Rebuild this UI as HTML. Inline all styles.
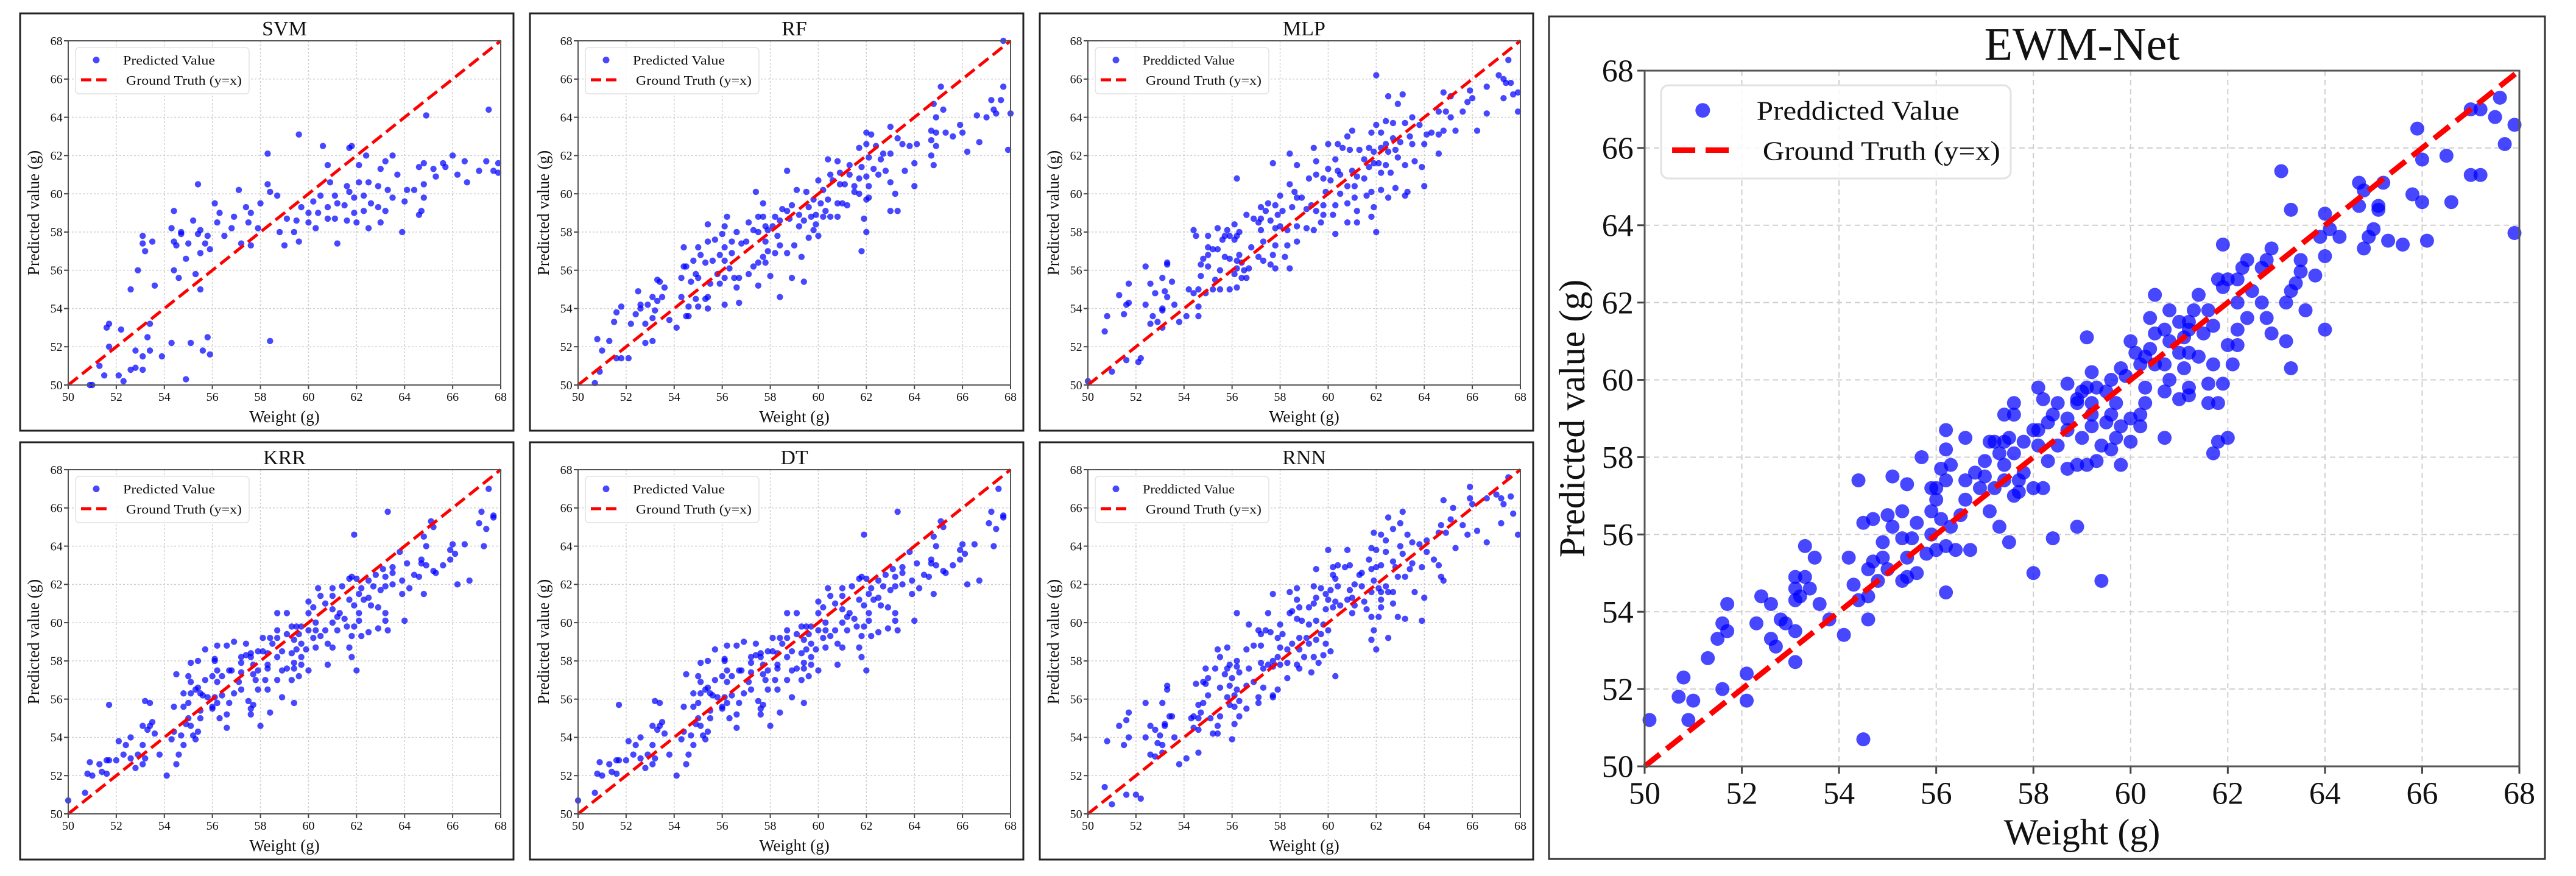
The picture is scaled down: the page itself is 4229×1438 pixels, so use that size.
<!DOCTYPE html>
<html><head><meta charset="utf-8"><style>
html,body{margin:0;padding:0;background:#fff;}
svg{display:block;font-family:"Liberation Serif",serif;}
</style></head><body>
<svg id="fig" width="4229" height="1438" viewBox="0 0 4229 1438" xmlns="http://www.w3.org/2000/svg"></svg>
<script>
const ticks = [50,52,54,56,58,60,62,64,66,68];
const titles = ["SVM","RF","MLP","KRR","DT","RNN","EWM-Net"];
const legendLabels = ["Predicted Value","Predicted Value","Preddicted Value","Predicted Value","Predicted Value","Preddicted Value","Preddicted Value"];
const svmPoints = [[67.5,64.4],[64.9,64.1],[59.6,63.1],[58.3,62.1],[60.6,62.5],[61.7,62.4],[61.8,62.5],[62.4,62.0],[63.5,62.0],[66.0,62.0],[66.5,61.7],[67.4,61.7],[65.6,61.6],[64.8,61.6],[65.2,61.3],[65.7,61.4],[67.1,61.2],[67.7,61.2],[67.9,61.6],[67.9,61.1],[66.2,61.0],[65.3,60.9],[66.6,60.6],[64.8,60.5],[64.8,59.8],[64.6,61.4],[63.7,61.0],[63.0,61.3],[63.2,61.7],[62.1,61.5],[60.8,61.5],[60.9,60.6],[64.1,60.2],[64.4,60.2],[64.0,59.6],[63.5,59.8],[63.3,60.2],[62.9,60.4],[62.5,60.6],[62.1,60.6],[61.6,60.4],[61.7,60.1],[61.9,59.8],[62.3,59.9],[62.6,59.5],[62.9,59.3],[63.2,59.1],[62.3,59.1],[61.9,59.0],[61.5,59.4],[61.2,59.5],[61.1,59.9],[60.8,59.3],[60.4,59.0],[60.0,59.0],[59.7,59.3],[60.2,59.6],[60.5,59.9],[60.8,58.7],[61.1,58.7],[61.6,58.6],[62.0,58.5],[62.5,58.2],[63.0,58.5],[63.9,58.0],[64.6,58.9],[64.7,59.1],[61.2,57.4],[60.3,58.2],[60.0,58.5],[59.5,58.6],[59.1,58.7],[59.4,58.0],[59.6,57.5],[59.0,57.3],[58.8,58.0],[58.7,59.9],[58.4,60.1],[58.3,60.5],[58.0,59.5],[57.6,59.0],[57.5,58.5],[57.9,58.2],[57.6,57.3],[57.2,57.4],[57.1,60.2],[57.4,59.3],[56.9,58.8],[56.8,58.2],[56.5,57.8],[56.2,58.5],[56.3,59.0],[56.1,59.5],[55.8,57.8],[55.7,57.4],[55.9,57.1],[55.5,56.9],[55.5,58.1],[55.2,58.6],[55.4,57.9],[55.0,57.4],[54.7,57.9],[54.5,57.3],[54.7,58.0],[54.3,58.2],[54.4,57.5],[54.9,56.6],[54.4,59.1],[55.4,60.5],[54.4,56.0],[54.6,55.6],[55.3,55.8],[55.5,55.0],[53.6,55.2],[53.5,57.5],[53.1,57.8],[53.1,57.4],[53.2,57.0],[52.9,56.0],[52.6,55.0],[53.4,53.2],[51.6,53.0],[51.7,53.2],[52.2,52.9],[51.7,52.0],[52.8,51.8],[53.3,52.5],[53.4,51.8],[53.1,51.5],[53.9,51.5],[51.3,51.0],[51.5,50.5],[52.1,50.5],[52.6,50.8],[52.8,50.9],[53.1,50.8],[52.3,50.2],[50.9,50.0],[51.0,50.0],[54.3,52.2],[55.1,52.2],[55.6,51.8],[55.8,52.5],[55.9,51.6],[54.9,50.3],[58.4,52.3]];
const rfPoints = [[67.7,68.0],[65.1,65.6],[67.7,65.6],[67.2,64.9],[67.6,64.9],[64.8,64.7],[67.3,64.4],[67.4,64.2],[68.0,64.2],[65.2,64.4],[64.9,64.0],[66.6,64.1],[67.0,64.0],[65.9,63.6],[66.0,63.2],[65.6,63.0],[66.7,62.7],[66.2,62.2],[67.9,62.3],[64.7,63.3],[64.9,63.2],[65.3,63.2],[64.7,62.8],[64.9,62.5],[64.7,62.0],[64.8,61.5],[63.0,63.5],[62.0,63.2],[62.2,63.1],[63.3,62.9],[63.5,62.6],[63.8,62.5],[64.1,62.6],[64.0,61.6],[63.6,61.2],[64.0,60.4],[63.2,60.0],[63.0,59.1],[63.3,59.1],[62.0,62.6],[61.7,62.4],[62.4,62.5],[62.7,62.1],[63.0,62.1],[62.6,61.8],[62.1,61.9],[61.8,61.4],[62.3,61.3],[62.8,61.2],[62.5,61.0],[62.0,60.9],[61.7,60.8],[62.1,60.4],[61.5,60.4],[61.7,60.0],[62.1,59.8],[61.5,60.1],[62.0,59.7],[63.0,60.6],[61.9,58.7],[62.0,58.0],[61.8,57.0],[61.3,61.5],[60.8,61.7],[60.4,61.8],[60.9,61.1],[60.5,61.0],[60.0,60.7],[60.2,60.2],[60.6,60.7],[61.1,60.5],[61.3,61.0],[60.9,60.5],[60.4,59.7],[60.8,59.5],[61.0,59.5],[61.2,59.4],[60.3,59.1],[60.8,58.8],[60.5,58.8],[60.2,58.8],[59.9,58.9],[59.5,60.1],[59.1,60.2],[59.8,59.7],[60.1,59.5],[59.6,59.3],[59.2,58.9],[59.4,58.6],[59.7,58.8],[59.9,58.4],[60.0,57.8],[59.6,57.7],[59.8,58.1],[59.2,58.3],[58.9,59.4],[58.7,59.1],[58.5,59.2],[58.8,58.7],[58.4,58.6],[58.2,58.8],[58.7,61.2],[58.1,58.3],[57.9,58.1],[57.8,58.3],[57.7,58.8],[57.5,58.8],[57.7,59.5],[57.4,60.1],[57.3,58.1],[57.5,58.0],[57.8,57.5],[58.3,57.8],[58.4,57.3],[59.0,57.3],[59.3,56.7],[58.7,56.9],[58.2,56.9],[57.9,57.0],[57.7,56.7],[57.8,56.4],[57.5,56.4],[57.3,56.2],[57.5,55.2],[58.0,55.7],[58.4,54.6],[58.9,55.6],[59.4,55.4],[57.1,58.5],[57.0,57.5],[56.8,57.4],[56.6,58.0],[56.4,57.5],[56.1,57.2],[56.1,58.3],[56.2,58.8],[56.0,57.9],[55.7,57.6],[55.4,58.4],[55.4,57.5],[56.4,56.9],[56.1,56.5],[55.9,56.8],[55.6,56.5],[55.3,56.4],[55.1,56.8],[55.0,57.2],[54.8,56.5],[54.4,57.2],[54.4,56.2],[54.5,56.2],[54.9,55.8],[55.0,55.6],[55.8,55.8],[56.3,56.1],[56.1,55.6],[56.5,55.6],[56.7,55.6],[57.1,55.8],[55.9,55.3],[56.6,55.1],[56.1,54.2],[56.7,54.3],[55.5,55.3],[55.4,54.6],[55.3,54.5],[54.9,54.5],[55.0,54.1],[55.4,54.0],[54.6,54.1],[54.7,55.4],[54.3,55.6],[54.3,54.6],[54.5,53.6],[54.6,53.6],[53.8,53.4],[54.1,53.0],[53.3,55.5],[53.4,55.4],[53.6,55.1],[53.5,54.6],[53.3,54.4],[53.1,54.6],[53.2,53.9],[53.1,53.5],[52.9,54.2],[52.6,54.2],[52.6,54.0],[52.5,54.9],[52.4,53.7],[52.8,53.2],[52.8,52.2],[53.1,52.3],[52.2,53.2],[51.8,54.1],[51.6,53.8],[51.5,53.3],[51.3,52.3],[50.8,52.4],[51.0,51.8],[51.6,51.4],[51.8,51.4],[52.1,51.4],[50.9,50.7],[50.7,50.1]];
const mlpPoints = [[67.5,67.0],[62.0,66.2],[67.1,66.2],[67.3,66.0],[67.4,65.8],[67.6,65.8],[66.6,65.6],[67.9,65.3],[67.7,65.2],[67.3,65.0],[65.9,65.4],[66.0,65.0],[65.8,64.8],[64.8,65.3],[65.1,65.1],[62.5,65.1],[63.1,65.2],[62.9,64.7],[64.6,64.3],[64.9,64.3],[65.1,64.0],[65.6,64.3],[66.6,64.2],[67.9,64.3],[66.2,63.3],[65.3,63.3],[64.8,63.3],[64.6,63.1],[64.3,63.2],[64.1,63.1],[63.8,63.6],[63.5,64.0],[63.2,63.7],[62.7,63.7],[62.4,63.8],[62.0,63.6],[61.8,63.2],[62.2,63.2],[63.4,63.0],[63.5,62.6],[64.0,62.6],[63.0,62.7],[62.7,62.9],[62.4,62.6],[64.6,62.1],[63.9,61.4],[63.6,61.7],[63.2,61.5],[62.9,61.9],[62.8,62.3],[62.5,62.2],[62.2,62.4],[61.9,62.2],[61.7,62.4],[61.5,61.8],[61.3,62.3],[62.1,61.6],[62.4,61.5],[62.6,61.1],[62.2,61.1],[61.7,61.4],[61.9,61.6],[64.0,60.4],[63.3,60.1],[63.2,59.9],[62.8,60.3],[62.5,59.8],[62.2,60.2],[61.8,60.1],[61.6,59.9],[61.9,59.3],[61.8,58.8],[62.0,58.0],[61.5,60.8],[61.2,60.9],[61.1,60.4],[60.8,60.4],[61.0,61.2],[60.9,62.3],[61.0,63.3],[60.8,63.0],[60.4,62.6],[60.6,62.4],[60.0,62.6],[59.4,62.4],[60.3,61.8],[60.0,61.3],[60.4,61.2],[60.5,61.0],[60.1,60.7],[59.8,60.8],[59.5,61.7],[59.5,61.0],[60.5,60.0],[60.8,59.5],[61.1,59.8],[61.2,59.1],[61.2,58.5],[60.8,58.5],[60.2,58.9],[60.3,59.4],[59.9,60.1],[59.8,59.4],[59.5,59.1],[59.8,58.9],[59.7,58.5],[59.4,58.1],[60.3,57.9],[59.3,59.4],[59.1,59.2],[58.9,59.8],[59.2,60.8],[58.7,61.5],[58.4,62.1],[57.7,61.6],[58.4,60.5],[58.6,60.1],[58.7,59.8],[58.5,59.3],[58.1,59.1],[58.0,59.9],[57.8,59.4],[57.4,59.1],[57.2,59.3],[57.5,59.5],[57.9,58.9],[57.6,58.6],[57.2,58.7],[57.1,58.5],[57.8,58.2],[58.0,58.3],[58.3,58.1],[58.7,58.3],[59.1,58.2],[58.7,57.5],[58.3,57.3],[57.8,57.3],[57.7,56.8],[58.2,56.7],[58.4,56.1],[57.8,56.1],[57.6,56.3],[57.3,56.5],[57.1,56.7],[57.2,58.1],[57.3,57.5],[56.9,58.7],[56.6,58.9],[56.2,60.8],[56.8,57.2],[56.3,56.8],[56.2,57.8],[56.3,58.0],[56.1,58.4],[55.9,57.8],[56.1,57.6],[55.7,57.8],[55.6,57.6],[55.8,58.1],[55.4,58.2],[55.0,57.8],[55.0,57.2],[55.2,57.1],[55.4,57.1],[55.0,56.8],[54.8,56.6],[55.0,56.2],[55.5,56.0],[55.7,56.7],[55.9,56.6],[56.2,56.5],[56.4,56.4],[56.2,56.1],[56.1,55.8],[56.5,56.0],[56.7,56.1],[56.4,55.6],[56.2,55.1],[55.9,55.0],[56.6,55.6],[55.3,55.5],[55.5,55.0],[55.2,55.0],[54.7,55.7],[54.4,58.1],[54.5,57.8],[54.7,56.3],[54.9,54.8],[54.6,55.0],[54.2,55.0],[54.4,54.8],[54.6,54.1],[54.6,53.6],[54.1,53.6],[53.8,53.3],[53.6,54.2],[53.3,56.4],[53.3,56.3],[53.5,55.4],[53.1,55.6],[53.2,54.9],[53.3,54.6],[53.1,54.0],[53.1,53.9],[52.8,54.8],[52.6,55.3],[52.4,56.2],[52.4,54.2],[52.7,53.6],[52.6,53.2],[52.9,53.3],[53.1,53.0],[51.7,55.3],[51.7,54.3],[51.6,54.2],[51.3,54.7],[51.5,53.7],[50.8,53.6],[50.7,52.8],[51.6,51.3],[52.1,51.2],[52.2,51.4],[51.0,50.7],[50.0,50.2]];
const krrPoints = [[67.5,67.0],[63.3,65.8],[67.2,65.8],[67.7,65.5],[67.7,65.6],[67.1,65.2],[67.4,64.9],[65.1,65.3],[65.2,65.0],[64.8,64.5],[64.9,64.0],[61.9,64.6],[67.3,64.0],[66.5,64.1],[66.0,64.1],[65.9,63.8],[66.1,63.6],[65.9,63.3],[65.6,63.0],[64.7,63.3],[64.9,63.0],[64.7,63.1],[65.2,62.7],[65.3,62.6],[64.4,62.5],[64.6,62.4],[64.8,61.5],[63.8,63.7],[63.5,62.9],[63.5,62.6],[63.1,62.8],[63.2,62.4],[62.8,62.5],[64.1,63.1],[63.9,62.2],[64.2,61.8],[63.9,61.5],[66.2,62.0],[66.7,62.2],[63.5,62.0],[63.2,61.9],[63.0,61.7],[62.7,61.9],[62.5,62.2],[62.2,61.8],[61.8,62.4],[62.0,62.3],[61.7,62.3],[62.1,61.5],[61.7,61.2],[61.9,60.9],[62.1,60.5],[62.3,61.2],[62.5,61.3],[62.6,60.9],[62.9,60.8],[63.2,60.5],[63.2,60.1],[63.3,59.6],[62.9,59.7],[62.5,59.5],[62.2,59.3],[62.1,60.1],[61.9,59.8],[61.8,59.3],[61.7,58.7],[61.8,58.2],[62.0,57.5],[64.0,60.1],[61.4,61.9],[61.0,61.8],[60.4,61.8],[60.5,61.4],[61.0,61.4],[60.7,61.0],[61.0,60.7],[61.3,60.5],[61.5,60.2],[61.2,60.3],[61.0,60.0],[61.2,59.6],[61.6,59.8],[60.7,59.6],[60.5,59.3],[60.8,58.9],[61.0,58.7],[60.8,57.8],[60.0,61.1],[60.0,60.5],[60.2,60.8],[60.3,60.0],[60.3,59.6],[60.2,59.2],[60.3,58.7],[60.0,59.6],[59.7,59.8],[59.5,59.8],[59.3,59.8],[59.6,59.4],[59.4,59.1],[59.7,58.9],[59.9,58.6],[59.5,58.6],[59.3,58.4],[59.7,58.2],[59.7,57.8],[60.0,57.5],[59.4,57.9],[59.1,57.6],[58.9,57.5],[59.4,57.6],[59.6,57.2],[59.3,57.0],[59.1,59.4],[58.7,60.5],[59.1,60.5],[58.7,59.6],[58.7,59.2],[58.4,59.2],[58.1,59.2],[58.5,58.9],[58.9,58.5],[58.7,58.2],[58.3,58.4],[58.1,58.5],[57.9,58.5],[57.6,58.4],[57.4,58.9],[57.6,58.2],[57.4,58.3],[57.2,58.2],[57.2,57.9],[57.7,57.8],[58.3,57.6],[57.9,57.5],[57.7,57.3],[58.3,57.8],[58.2,57.0],[58.7,57.0],[57.8,57.0],[57.2,57.4],[57.1,56.9],[57.2,56.5],[57.9,56.5],[58.3,56.5],[58.9,56.1],[59.4,55.8],[58.4,55.3],[57.5,55.9],[57.7,55.7],[57.6,55.5],[57.6,55.2],[58.0,54.6],[56.9,59.0],[56.6,58.8],[56.2,58.8],[56.7,57.5],[56.8,57.5],[56.9,56.3],[56.7,55.8],[56.6,55.2],[56.3,55.0],[56.6,54.5],[56.2,57.5],[56.1,58.0],[56.1,58.1],[56.4,57.2],[56.2,56.9],[56.0,57.2],[55.7,57.0],[55.8,56.1],[56.1,56.1],[56.4,56.2],[56.2,55.8],[56.0,55.6],[56.0,55.5],[55.5,56.3],[55.6,56.2],[55.4,56.6],[55.3,56.5],[55.5,55.4],[55.5,55.0],[55.4,54.3],[55.7,58.6],[55.4,58.0],[55.1,57.9],[55.0,57.2],[55.1,56.9],[54.8,56.3],[55.1,56.3],[55.0,55.8],[54.8,55.6],[54.4,55.6],[54.5,57.3],[55.0,55.0],[54.9,54.7],[55.1,54.6],[55.2,54.1],[55.3,53.9],[54.7,54.1],[54.8,53.6],[54.4,54.3],[54.3,53.9],[54.6,53.1],[54.5,52.6],[54.1,52.0],[53.8,53.1],[53.6,54.2],[53.5,54.8],[53.4,54.6],[53.1,54.6],[53.2,55.9],[53.4,55.8],[53.3,54.4],[53.1,53.6],[52.9,53.1],[53.2,52.9],[53.1,52.6],[52.8,52.4],[52.6,52.9],[52.3,53.1],[52.6,54.0],[52.4,53.6],[52.1,53.8],[52.0,52.8],[51.7,55.7],[51.7,52.8],[51.6,52.8],[51.3,52.6],[51.4,52.2],[51.6,52.1],[51.0,52.0],[50.8,52.1],[50.9,52.7],[50.7,51.1],[50.0,50.7]];
const dtPoints = krrPoints.map(p => [p[0], p[1]]);
const rnnPoints = [[67.5,67.6],[65.9,67.1],[64.8,66.4],[65.9,66.5],[66.0,66.2],[66.6,66.5],[67.0,66.7],[67.2,66.5],[67.6,66.6],[67.3,66.2],[67.7,65.7],[67.2,65.2],[67.9,64.6],[66.6,64.2],[66.2,64.8],[65.8,64.6],[65.6,65.1],[65.2,66.0],[65.1,65.4],[64.7,65.1],[64.9,64.7],[64.6,64.7],[65.3,63.9],[63.1,65.8],[62.5,65.5],[63.0,65.2],[62.7,64.9],[61.9,64.7],[62.2,64.6],[63.3,64.6],[62.4,64.3],[61.8,63.9],[62.0,63.8],[62.4,63.7],[63.1,63.6],[63.0,64.0],[63.5,64.2],[63.8,64.1],[64.1,64.3],[64.1,63.7],[64.4,63.3],[64.6,63.0],[64.7,62.4],[64.8,62.2],[63.9,62.9],[63.4,62.8],[63.5,63.1],[63.2,62.4],[62.9,62.4],[62.7,63.2],[62.8,62.9],[62.2,63.0],[62.0,62.9],[61.8,62.8],[61.7,63.3],[63.6,61.6],[64.0,61.3],[63.9,60.1],[63.2,60.2],[62.9,60.3],[62.7,61.0],[62.4,61.9],[62.1,61.8],[61.9,62.2],[62.2,61.6],[62.5,61.6],[62.7,61.6],[62.2,61.2],[62.2,60.8],[62.1,60.3],[61.8,61.6],[61.5,61.1],[61.6,60.7],[61.8,60.3],[61.9,59.6],[61.8,59.1],[62.0,58.6],[62.5,59.2],[61.4,62.6],[61.3,62.5],[61.4,61.9],[61.1,62.0],[60.9,61.7],[61.0,61.3],[61.1,60.9],[61.0,60.5],[60.8,61.2],[60.9,63.0],[60.7,62.9],[60.4,63.0],[60.2,62.9],[60.2,62.5],[60.3,62.3],[60.4,61.9],[60.1,61.7],[59.9,61.5],[60.0,61.2],[60.3,61.1],[60.5,60.9],[60.2,60.8],[59.9,60.7],[60.8,63.8],[60.0,63.8],[59.5,62.8],[59.4,61.9],[59.7,61.8],[59.5,61.3],[59.4,61.0],[59.2,60.8],[58.8,60.8],[58.5,60.6],[58.7,60.2],[58.9,60.1],[59.2,59.9],[59.5,60.1],[59.8,59.9],[60.0,59.6],[59.7,59.4],[59.5,59.1],[59.2,58.9],[59.1,59.2],[59.9,58.9],[60.1,58.5],[59.8,58.3],[59.6,57.9],[59.4,58.2],[59.0,58.2],[58.8,58.6],[58.5,58.9],[58.8,59.2],[58.1,59.4],[58.0,59.9],[58.7,61.8],[58.7,61.2],[58.4,61.6],[57.7,61.5],[57.5,60.5],[58.4,60.5],[57.1,59.6],[57.2,59.4],[57.4,59.6],[57.6,59.5],[57.9,59.2],[58.0,58.7],[58.3,58.6],[57.9,58.2],[57.7,58.0],[57.5,57.8],[57.2,57.9],[57.3,57.6],[57.7,57.7],[58.0,57.8],[58.3,57.9],[58.7,57.8],[58.8,57.6],[59.3,57.4],[60.3,57.2],[58.3,57.1],[57.9,56.5],[57.7,56.2],[57.7,56.1],[57.3,56.6],[57.1,56.1],[57.1,55.8],[56.9,56.9],[56.6,56.7],[56.7,57.6],[56.6,58.6],[56.9,58.8],[57.2,58.8],[56.2,60.5],[56.7,59.9],[56.2,58.0],[55.9,57.8],[56.2,57.7],[56.3,57.4],[56.0,57.1],[55.7,57.3],[55.8,57.6],[55.5,58.2],[55.4,58.6],[55.8,58.7],[55.3,57.6],[54.9,57.6],[55.0,57.1],[54.9,56.8],[54.8,56.9],[54.5,56.8],[55.5,56.6],[55.9,56.7],[56.2,56.5],[56.1,56.2],[55.8,56.1],[55.9,55.7],[56.1,55.6],[56.3,55.9],[56.6,55.5],[56.3,55.1],[56.1,54.7],[56.0,53.9],[55.0,56.2],[54.8,55.8],[54.6,55.7],[54.7,55.3],[55.5,55.1],[55.4,54.6],[55.4,54.2],[55.2,54.2],[55.1,55.0],[54.6,55.0],[54.4,55.1],[54.3,55.0],[54.4,54.5],[54.6,54.4],[54.6,53.2],[54.1,52.9],[53.8,52.6],[53.6,54.0],[53.4,55.1],[53.5,55.1],[53.3,56.7],[53.3,56.5],[53.1,55.8],[53.2,54.7],[53.2,54.6],[53.0,54.1],[52.9,53.7],[53.1,53.6],[53.1,53.2],[52.8,53.0],[52.6,53.1],[52.6,54.6],[52.8,54.4],[52.4,54.0],[52.4,55.8],[51.7,55.3],[51.6,54.9],[51.3,54.6],[51.7,54.0],[51.5,53.6],[50.8,53.8],[50.7,51.4],[51.6,51.0],[52.0,51.0],[52.2,50.8],[51.0,50.5]];
const ewmPoints = [[67.6,67.3],[67.0,67.0],[67.2,67.0],[67.5,66.8],[67.9,66.6],[67.7,66.1],[65.9,66.5],[66.0,65.7],[66.5,65.8],[66.6,64.6],[65.8,64.8],[66.0,64.6],[67.2,65.3],[67.0,65.3],[67.9,63.8],[66.1,63.6],[65.6,63.5],[65.3,63.6],[65.1,64.5],[65.1,64.4],[65.2,65.1],[64.7,65.1],[64.7,64.5],[64.8,64.9],[65.0,63.9],[64.9,63.7],[64.8,63.4],[64.3,63.7],[63.1,65.4],[63.3,64.4],[64.0,64.3],[64.1,63.9],[63.9,63.7],[64.0,63.2],[63.8,62.7],[63.5,63.1],[63.5,62.8],[63.4,62.5],[63.6,61.8],[64.0,61.3],[63.3,62.3],[63.2,62.0],[63.2,61.0],[63.3,60.3],[62.9,63.4],[62.8,63.1],[62.7,62.9],[62.4,63.1],[62.3,62.9],[61.9,63.5],[62.2,62.6],[62.5,62.3],[62.7,62.0],[62.8,61.6],[62.9,61.2],[62.4,61.6],[62.2,62.0],[61.9,62.4],[61.8,62.6],[62.0,62.6],[62.2,61.3],[62.2,60.9],[62.0,60.9],[62.1,60.4],[61.9,59.9],[61.7,60.4],[62.0,58.5],[61.8,58.4],[61.7,58.1],[61.8,59.4],[61.6,59.4],[61.6,59.9],[61.4,60.6],[61.5,61.2],[61.7,61.4],[61.6,61.8],[61.3,61.8],[61.4,62.2],[61.2,61.5],[61.2,61.3],[61.0,61.5],[61.1,61.1],[61.2,60.7],[61.1,60.3],[61.2,59.8],[61.2,59.6],[61.0,59.5],[60.8,60.0],[60.7,60.4],[61.0,60.7],[60.8,61.0],[60.7,61.3],[60.5,62.2],[60.4,61.6],[60.5,61.2],[60.4,60.8],[60.8,61.8],[60.7,58.5],[60.7,59.7],[60.5,60.4],[60.3,60.6],[60.2,60.4],[60.3,59.8],[60.3,59.4],[60.2,59.1],[60.2,58.8],[60.0,58.4],[60.0,59.0],[60.0,61.0],[60.1,60.7],[59.9,60.1],[59.8,60.3],[59.6,60.0],[59.5,59.7],[59.7,59.4],[59.6,59.1],[59.8,58.8],[59.7,58.5],[59.5,58.9],[59.2,58.8],[59.4,58.3],[59.6,58.2],[59.8,57.8],[59.3,57.9],[59.1,57.8],[59.0,58.5],[59.2,59.1],[59.2,59.4],[59.3,59.8],[59.1,59.8],[59.2,60.2],[59.0,59.7],[58.9,59.4],[58.7,59.0],[58.7,58.7],[58.5,58.3],[58.7,57.7],[58.9,57.8],[59.1,61.1],[59.4,54.8],[58.9,56.2],[58.4,55.9],[58.0,55.0],[58.7,59.9],[58.9,59.5],[58.5,59.4],[58.4,59.1],[58.3,58.9],[58.1,58.7],[58.1,58.3],[58.3,57.9],[58.2,57.2],[58.0,57.2],[57.8,57.6],[57.7,57.1],[57.7,57.4],[57.6,58.1],[57.8,58.4],[58.0,58.7],[58.1,59.8],[58.2,59.5],[57.6,59.4],[57.6,59.1],[57.4,59.1],[57.5,58.5],[57.4,58.4],[57.2,58.4],[57.3,58.1],[57.4,57.8],[57.4,57.4],[57.6,57.0],[57.5,55.8],[57.3,56.2],[57.2,57.2],[57.1,56.6],[57.0,57.5],[57.1,58.4],[57.0,57.9],[56.9,57.2],[56.8,57.6],[56.6,57.4],[56.6,56.9],[56.5,56.5],[56.7,55.6],[56.4,55.6],[56.6,58.5],[56.3,57.8],[56.2,57.4],[56.2,58.7],[56.2,58.2],[56.1,57.7],[56.0,57.2],[56.0,56.9],[55.9,56.6],[56.1,56.4],[56.3,56.2],[56.2,55.7],[56.0,55.6],[55.9,56.0],[55.8,55.5],[56.2,54.5],[55.9,57.2],[55.7,58.0],[55.4,57.3],[55.6,56.3],[55.5,55.9],[55.3,55.9],[55.1,56.2],[55.0,56.5],[55.3,56.6],[55.1,57.5],[54.9,55.8],[54.9,55.4],[55.0,55.1],[55.4,55.4],[55.4,54.9],[55.6,55.0],[55.3,54.8],[54.7,55.3],[54.6,55.1],[54.8,54.8],[54.7,56.4],[54.5,56.3],[54.4,57.4],[54.2,55.4],[54.3,54.7],[54.4,54.3],[54.6,54.4],[54.6,53.8],[54.5,50.7],[54.1,53.4],[53.8,53.8],[53.6,54.2],[53.5,55.4],[53.3,55.7],[53.3,54.9],[53.4,54.6],[53.1,54.9],[53.1,54.6],[53.2,54.4],[53.1,54.3],[53.1,53.5],[53.1,52.7],[52.8,53.8],[52.9,53.7],[52.6,54.2],[52.6,53.3],[52.7,53.1],[52.4,54.4],[52.3,53.7],[52.1,51.7],[52.1,52.4],[51.7,54.2],[51.7,53.5],[51.6,53.7],[51.5,53.3],[51.6,52.0],[51.3,52.8],[51.0,51.7],[50.9,51.2],[50.8,52.3],[50.7,51.8],[50.1,51.2]];

const NS = "http://www.w3.org/2000/svg";
const svg = document.getElementById("fig");
function el(tag, attrs, parent, text) {
  const e = document.createElementNS(NS, tag);
  for (const k in attrs) e.setAttribute(k, attrs[k]);
  if (text !== undefined) e.textContent = text;
  (parent || svg).appendChild(e);
  return e;
}

const small = {tick:20, label:27, title:34, r:5.2, leg:21, spine:2, gridDash:"3 3", lineW:5, lineDash:"20 9", legMarkR:5.5, legBoxW:285, legBoxH:76};
const big = {tick:52, label:60, title:76, r:11.5, leg:44, spine:3, gridDash:"9 6", lineW:9, lineDash:"32 14", legMarkR:12, legBoxW:574, legBoxH:153};

function panel(idx, box, plot, sz, pts, slug) {
  const g = el("g", {});
  
  
  const xs = v => plot.x0 + (v - 50) / 18 * (plot.x1 - plot.x0);
  const ys = v => plot.y1 - (v - 50) / 18 * (plot.y1 - plot.y0);
  const fr = el("rect", {x:box.x, y:box.y, width:box.w, height:box.h, fill:"#fff", stroke: box.stroke || "#222", "stroke-width": box.sw || 3}, g);
  
  
  ticks.forEach(t => {
    if (t > 50 && t < 68) {
      const gx = el("line", {x1:xs(t), x2:xs(t), y1:plot.y0, y2:plot.y1, stroke:"#cfcfcf", "stroke-width": sz===big?2:1.5, "stroke-dasharray":sz.gridDash}, g);
      
      
      const gy = el("line", {x1:plot.x0, x2:plot.x1, y1:ys(t), y2:ys(t), stroke:"#cfcfcf", "stroke-width": sz===big?2:1.5, "stroke-dasharray":sz.gridDash}, g);
      
      
    }
  });
  const tl = sz === big ? 12 : 7;
  ticks.forEach(t => {
    el("line", {x1:xs(t), x2:xs(t), y1:plot.y1, y2:plot.y1 + tl, stroke:"#444", "stroke-width":sz.spine}, g);
    const xl = el("text", {x:xs(t), y:plot.y1 + tl + sz.tick * 0.95, "font-size":sz.tick, "text-anchor":"middle", fill:"#111"}, g, String(t));
    
    
    el("line", {x1:plot.x0 - tl, x2:plot.x0, y1:ys(t), y2:ys(t), stroke:"#444", "stroke-width":sz.spine}, g);
    const yl = el("text", {x:plot.x0 - tl - sz.tick * 0.12, y:ys(t) + sz.tick * 0.34, "font-size":sz.tick, "text-anchor":"end", fill:"#111"}, g, String(t));
    
    
  });
  pts.forEach(p => {
    const c = el("circle", {cx:xs(p[0]), cy:ys(p[1]), r:sz.r, fill:"#0000ff", "fill-opacity":0.72}, g);
    
    
  });
  const gt = el("line", {x1:xs(50), y1:ys(50), x2:xs(68), y2:ys(68), stroke:"#ff0000", "stroke-width":sz.lineW, "stroke-dasharray":sz.lineDash}, g);
  
  
  const sp = el("rect", {x:plot.x0, y:plot.y0, width:plot.x1 - plot.x0, height:plot.y1 - plot.y0, fill:"none", stroke:"#555", "stroke-width":sz.spine}, g);
  
  
  const s = sz === big ? 2.01 : 1;
  const lx = plot.x0 + (sz===big ? 27 : 12), ly = plot.y0 + (sz===big ? 24 : 11);
  const lg = el("g", {}, g);
  
  
  el("rect", {x:lx, y:ly, width:sz.legBoxW, height:sz.legBoxH, rx:6*s, fill:"#fff", "fill-opacity":0.85, stroke:"#e2e2e2", "stroke-width":1.5*s}, lg);
  const lm = el("circle", {cx:lx + 34*s, cy:ly + 20.5*s, r:sz.legMarkR, fill:"#0000ff", "fill-opacity":0.72}, lg);
  
  
  const lt1 = el("text", {x:lx + 78*s, y:ly + 28*s, "font-size":sz.leg, fill:"#111", textLength: sz===big?333:151, lengthAdjust:"spacingAndGlyphs"}, lg, legendLabels[idx]);
  
  
  el("line", {x1:lx + 9*s, x2:lx + 56*s, y1:ly + 53*s, y2:ly + 53*s, stroke:"#ff0000", "stroke-width":sz.lineW, "stroke-dasharray": sz===big ? "38 17" : "17 8"}, lg);
  const lt2 = el("text", {x:lx + 83*s, y:ly + 61*s, "font-size":sz.leg, fill:"#111", textLength: sz===big?390:190, lengthAdjust:"spacingAndGlyphs"}, lg, "Ground Truth (y=x)");
  
  
  const cx = (plot.x0 + plot.x1) / 2;
  const tt = el("text", {x:cx, y:plot.y0 - (sz===big ? 18 : 9), "font-size":sz.title, "text-anchor":"middle", fill:"#111"}, g, titles[idx]);
  
  
  const xt = el("text", {x:cx, y:plot.y1 + (sz===big ? 128 : 61), "font-size":sz.label, "text-anchor":"middle", fill:"#111"}, g, "Weight (g)");
  
  
  const yx = sz===big ? 2601 : box.x + 31;
  const yc = (plot.y0 + plot.y1) / 2;
  const yt = el("text", {x:yx, y:yc, "font-size":sz.label, "text-anchor":"middle", fill:"#111", transform:`rotate(-90 ${yx} ${yc})`}, g, "Predicted value (g)");
  
  
}

const colX = [33, 870, 1707], rowY = [22, 726];
const data = [svmPoints, rfPoints, mlpPoints, krrPoints, dtPoints, rnnPoints];
const slugs = ["svm","rf","mlp","krr","dt","rnn"];
for (let i = 0; i < 6; i++) {
  const bx = colX[i % 3], by = rowY[Math.floor(i / 3)];
  panel(i, {x:bx, y:by, w:810, h:685}, {x0:bx + 79, x1:bx + 789, y0:by + 45, y1:by + 610}, small, data[i], slugs[i]);
}
panel(6, {x:2543, y:27, w:1635, h:1383, stroke:"#333", sw:3}, {x0:2700, x1:4136, y0:116, y1:1258}, big, ewmPoints, "ewm-net");
</script>
</body></html>
